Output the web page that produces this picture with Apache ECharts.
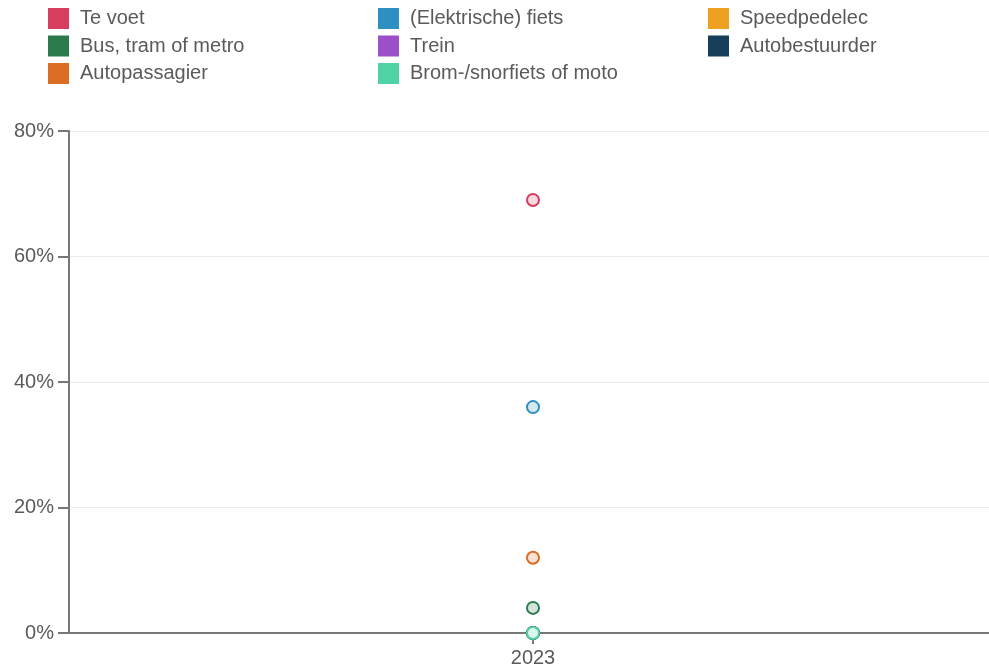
<!DOCTYPE html>
<html><head><meta charset="utf-8">
<script src="https://cdn.jsdelivr.net/npm/echarts@6/dist/echarts.min.js"></script>
<style>html,body{margin:0;padding:0;background:#fff;overflow:hidden}#c{width:997px;height:668px}</style>
</head><body><div id="c"></div>
<script>
const categories = ['2023'];
const seriesNames = ['Te voet','(Elektrische) fiets','Speedpedelec','Bus, tram of metro','Trein','Autobestuurder','Autopassagier','Brom-/snorfiets of moto'];
const seriesColors = ['#d63d5f','#2e90c2','#eea021','#2b7a4b','#9b4fc9','#173f5b','#d96d23','#4fd2a4'];
const teVoet = [69];
const fiets = [36];
const speedpedelec = [0];
const bus = [4];
const trein = [0];
const autobestuurder = [0];
const autopassagier = [12];
const brom = [0];
const values = [teVoet, fiets, speedpedelec, bus, trein, autobestuurder, autopassagier, brom];
const yTicks = [0, 20, 40, 60, 80];

function tint(hex, a) {
  const c = [1,3,5].map(k => parseInt(hex.slice(k,k+2),16));
  const m = c.map(v => Math.round(255 - (255 - v) * a));
  return 'rgb(' + m.join(',') + ')';
}

const chart = echarts.init(document.getElementById('c'));
const font = '"Liberation Sans", Arial, sans-serif';
const legendBase = {
  orient: 'vertical', top: 3, itemWidth: 21, itemHeight: 21, itemGap: 6.5,
  icon: 'rect', selectedMode: false,
  textStyle: {fontSize: 20, color: '#5a5a5a', fontFamily: font, padding: [0,0,0,6]}
};
function legendData(idx) {
  return idx.map(i => ({name: seriesNames[i], itemStyle: {color: seriesColors[i], borderWidth: 0}}));
}
chart.setOption({
  animation: false,
  legend: [
    Object.assign({}, legendBase, {left: 43, data: legendData([0,3,6])}),
    Object.assign({}, legendBase, {left: 373, data: legendData([1,4,7])}),
    Object.assign({}, legendBase, {left: 703, data: legendData([2,5])})
  ],
  grid: {left: 69, right: 0, top: 131, bottom: 35, containLabel: false},
  xAxis: {
    type: 'category', data: categories, boundaryGap: true,
    axisLine: {lineStyle: {color: '#777', width: 2}},
    axisTick: {show: true, alignWithLabel: true, length: 11, lineStyle: {color: '#777', width: 2}},
    axisLabel: {fontSize: 20, color: '#5a5a5a', fontFamily: font, margin: 15}
  },
  yAxis: {
    type: 'value', min: yTicks[0], max: yTicks[yTicks.length-1], interval: 20,
    axisLine: {show: true, lineStyle: {color: '#777', width: 2}},
    axisTick: {show: true, length: 11, lineStyle: {color: '#777', width: 2}},
    axisLabel: {fontSize: 20, color: '#5a5a5a', fontFamily: font, formatter: '{value}%', margin: 15},
    splitLine: {lineStyle: {color: '#ebebeb'}}
  },
  series: seriesNames.map((n, i) => ({
    name: n, type: 'line', data: values[i], color: seriesColors[i], z: 5,
    symbol: 'circle', symbolSize: 12, showSymbol: true,
    itemStyle: {color: tint(seriesColors[i], 0.2), borderColor: seriesColors[i], borderWidth: 2},
    lineStyle: {width: 2}
  }))
});
</script></body></html>
